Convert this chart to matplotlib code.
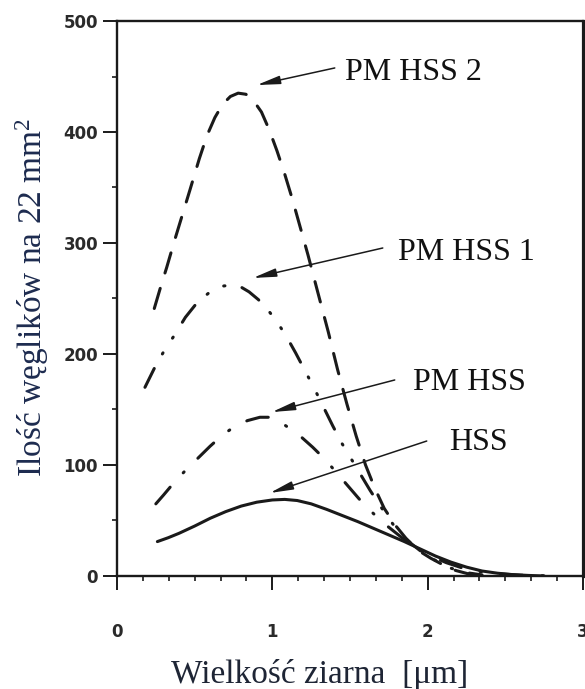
import matplotlib
matplotlib.use("Agg")
import matplotlib.pyplot as plt
from matplotlib.ticker import MultipleLocator

plt.rcParams["lines.scale_dashes"] = False
plt.rcParams["mathtext.default"] = "regular"

# Carbide count per 22 mm^2 versus grain size [um]
hss_x = [0.26, 0.33, 0.40, 0.50, 0.60, 0.70, 0.80, 0.90, 1.00, 1.08, 1.16,
         1.25, 1.35, 1.45, 1.55, 1.65, 1.75, 1.85, 1.95, 2.05, 2.15, 2.25,
         2.35, 2.45, 2.55, 2.65, 2.75]
hss_y = [31, 34.5, 38.5, 45, 52, 58, 63, 66.5, 68.5, 69, 68, 65, 60, 54.5,
         49, 43, 37, 31, 24.5, 18, 12.5, 8, 4.5, 2.5, 1.2, 0.5, 0]

pm_hss_x = [0.25, 0.30, 0.36, 0.44, 0.52, 0.60, 0.68, 0.76, 0.84, 0.92, 0.98,
            1.04, 1.10, 1.18, 1.26, 1.34, 1.42, 1.50, 1.58, 1.66, 1.74, 1.83,
            1.92, 2.02, 2.12, 2.25, 2.40, 2.60, 2.80]
pm_hss_y = [65, 73, 83, 95, 106, 117, 127, 135, 140, 143, 143, 140, 134, 126,
            116, 105, 92, 79, 66, 55, 45, 35, 26, 18, 12, 6, 2.5, 0.7, 0]

pm_hss1_x = [0.18, 0.24, 0.30, 0.37, 0.44, 0.52, 0.60, 0.67, 0.73, 0.79, 0.85,
             0.91, 0.97, 1.03, 1.09, 1.15, 1.21, 1.27, 1.33, 1.39, 1.45, 1.51,
             1.57, 1.63, 1.70, 1.78, 1.86, 1.95, 2.05, 2.15, 2.25, 2.35]
pm_hss1_y = [170, 187, 202, 217, 233, 247, 256, 261, 262, 261, 256, 249, 240,
             229, 216, 201, 185, 169, 152, 135, 119, 105, 91, 77, 62, 46, 33,
             23, 14, 7, 3, 1]

pm_hss2_x = [0.24, 0.28, 0.32, 0.37, 0.42, 0.47, 0.53, 0.58, 0.63, 0.68, 0.73,
             0.78, 0.83, 0.88, 0.93, 0.98, 1.03, 1.08, 1.13, 1.18, 1.23, 1.29,
             1.36, 1.42, 1.48, 1.54, 1.60, 1.66, 1.72, 1.79, 1.86, 1.94, 2.02,
             2.10, 2.18, 2.26, 2.32]
pm_hss2_y = [241, 260, 278, 302, 325, 348, 376, 397, 413, 425, 432, 435, 434,
             428, 418, 402, 383, 362, 339, 314, 289, 257, 220, 186, 155, 126,
             100, 79, 61, 46, 34, 23, 16, 10, 5, 2, 0.5]

# Curve labels: text anchor, arrow start and arrow tip (data coordinates)
label_names = ["PM HSS 2", "PM HSS 1", "PM HSS", "HSS"]
label_pos = [(1.466, 446.8), (1.807, 284.7), (1.904, 167.6), (2.141, 113.5)]
arrow_from = [(1.402, 457.7), (1.711, 295.5), (1.788, 176.6), (1.994, 121.6)]
arrow_to = [(0.900, 442.3), (0.875, 268.5), (0.997, 147.7), (0.984, 74.8)]

x_ticks = [0, 1, 2, 3]
x_tick_labels = ["0", "1", "2", "3"]
y_ticks = [0, 100, 200, 300, 400, 500]
y_tick_labels = ["0", "100", "200", "300", "400", "500"]

ink = "#1a1a1a"
serif = "Liberation Serif"

fig = plt.figure(figsize=(5.85, 6.89), dpi=100)
ax = fig.add_axes([0.2, 0.16401, 0.79658, 0.80551])

lw = 2.2
ax.plot(hss_x, hss_y, color=ink, lw=lw, solid_capstyle="round",
        solid_joinstyle="round")
ax.plot(pm_hss_x, pm_hss_y, color=ink, lw=lw, dash_capstyle="round",
        dash_joinstyle="round", dashes=(15.8, 14.0, 0.9, 14.0))
ax.plot(pm_hss1_x, pm_hss1_y, color=ink, lw=lw, dash_capstyle="round",
        dash_joinstyle="round", dashes=(15.1, 12.0, 0.9, 12.6, 0.9, 12.6))
ax.plot(pm_hss2_x, pm_hss2_y, color=ink, lw=lw, dash_capstyle="round",
        dash_joinstyle="round", dashes=(15.1, 11.6))

for name, tpos, a0, a1 in zip(label_names, label_pos, arrow_from, arrow_to):
    ax.annotate("", xy=a1, xytext=a0,
                arrowprops=dict(arrowstyle="-|>,head_length=1.4,head_width=0.25",
                                lw=1.1, color=ink, shrinkA=0, shrinkB=0,
                                mutation_scale=10))
    ax.text(tpos[0], tpos[1], name, fontsize=23, family=serif,
            color="#111111", ha="left", va="baseline")

ax.set_xlim(0, 3)
ax.set_ylim(0, 500)
ax.set_xticks(x_ticks)
ax.set_xticklabels(x_tick_labels)
ax.set_yticks(y_ticks)
ax.set_yticklabels(y_tick_labels)
ax.xaxis.set_minor_locator(MultipleLocator(1 / 6))
ax.yaxis.set_minor_locator(MultipleLocator(50))

ax.tick_params(which="major", direction="out", length=10, width=1.4, color=ink)
ax.tick_params(which="minor", direction="out", length=3.5, width=1.2, color=ink)
ax.tick_params(axis="x", which="major", pad=24)
ax.tick_params(axis="y", which="major", pad=3.6)
for lab in ax.get_xticklabels() + ax.get_yticklabels():
    lab.set_fontfamily("DejaVu Sans")
    lab.set_fontweight("bold")
    lab.set_fontsize(12)
    lab.set_color("#2a2a2a")

for side, sp in ax.spines.items():
    sp.set_color(ink)
    sp.set_linewidth(1.7)
ax.spines["right"].set_linewidth(2.3)

fig.text(32 / 585, 1 - 297 / 689, "Ilość węglików na 22 mm$^{2}$",
         rotation=90, ha="center", va="center", fontsize=24, family=serif,
         color="#1d2b4f")
fig.text(320 / 585, 1 - 683 / 689, "Wielkość ziarna  [μm]",
         ha="center", va="baseline", fontsize=24, family=serif,
         color="#1e2535")

fig.savefig("out.png", dpi=100)
